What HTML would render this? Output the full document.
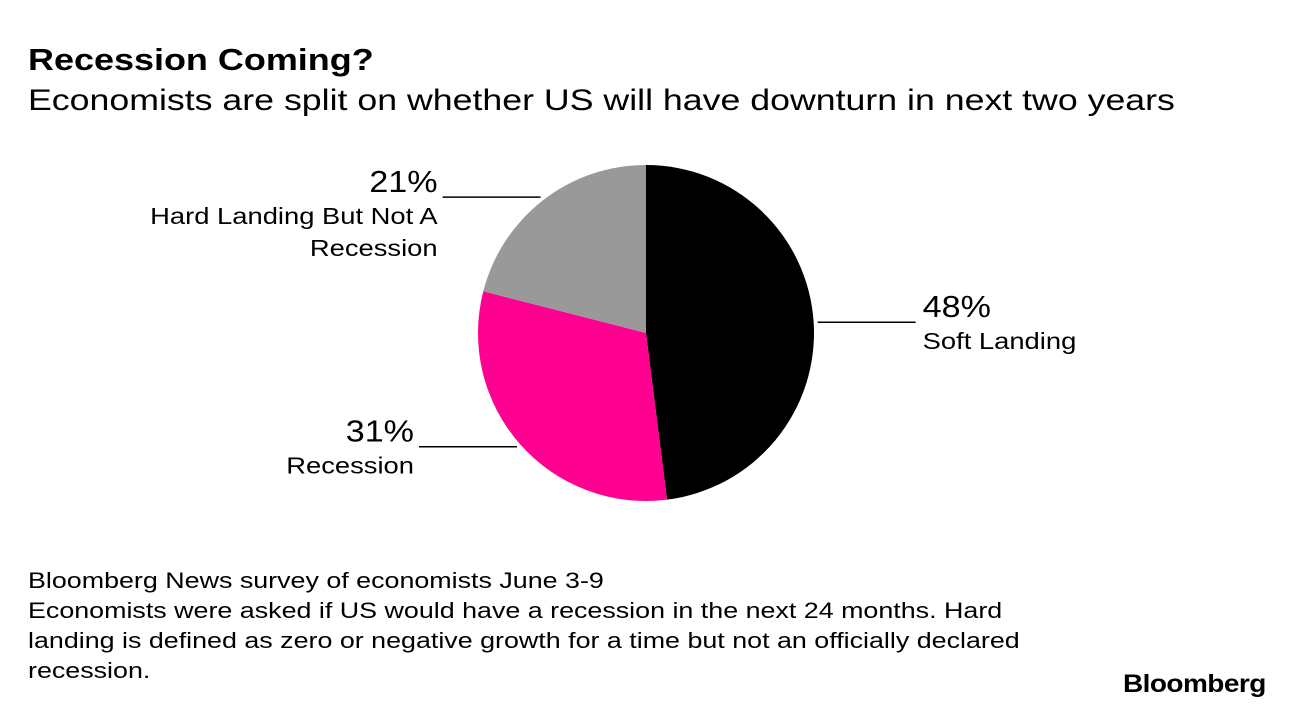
<!DOCTYPE html>
<html><head><meta charset="utf-8"><style>
body{margin:0;background:#fff;width:1292px;height:710px;overflow:hidden;font-family:"Liberation Sans",Arial,sans-serif;color:#000}
.t{position:absolute;white-space:nowrap;transform-origin:0 0}
</style></head><body>
<div class="t" style="left:28px;top:42px;font-size:31px;font-weight:bold;transform:scaleX(1.16)">Recession Coming?</div>
<div class="t" style="left:28px;top:84px;font-size:30px;transform:scaleX(1.19)">Economists are split on whether US will have downturn in next two years</div>
<svg id="pie" width="1292" height="710" style="position:absolute;left:0;top:0"></svg>
<div class="t" style="left:28px;top:566px;font-size:22px;line-height:30px;transform:scaleX(1.22)">Bloomberg News survey of economists June 3-9<br>Economists were asked if US would have a recession in the next 24 months. Hard<br>landing is defined as zero or negative growth for a time but not an officially declared<br>recession.</div>
<div class="t" style="left:1123px;top:670px;font-size:25px;font-weight:bold;letter-spacing:-0.5px;transform:scaleX(1.12)">Bloomberg</div>
<script>
const categories=["Soft Landing","Recession","Hard Landing But Not A Recession"];
const values=[48,31,21];
const colors=["#000000","#ff0090","#999999"];
const svg=document.getElementById('pie');
const NS="http://www.w3.org/2000/svg";
const cx=646,cy=333,r=168,SX=1.19;
const total=values.reduce((a,b)=>a+b,0);
let a0=0;
function pt(a,rr){return [cx+rr*Math.sin(a),cy-rr*Math.cos(a)];}
values.forEach((v,i)=>{
  const a1=a0+v/total*2*Math.PI;
  const p0=pt(a0,r),p1=pt(a1,r);
  const large=(a1-a0)>Math.PI?1:0;
  const p=document.createElementNS(NS,'path');
  p.setAttribute('d',`M${cx},${cy}L${p0[0]},${p0[1]}A${r},${r} 0 ${large} 1 ${p1[0]},${p1[1]}Z`);
  p.setAttribute('fill',colors[i]);
  
  
  svg.appendChild(p);
  const mid=(a0+a1)/2;
  const e=pt(mid,r+4);
  const right=Math.sin(mid)>0;
  const len=98;
  const x2=right?e[0]+len:e[0]-len;
  const ln=document.createElementNS(NS,'line');
  ln.setAttribute('x1',e[0]);ln.setAttribute('y1',e[1]);ln.setAttribute('x2',x2);ln.setAttribute('y2',e[1]);
  ln.setAttribute('stroke','#000');ln.setAttribute('stroke-width','1.5');
  
  
  svg.appendChild(ln);
  const tx=right?x2+7:x2-5;
  const anchor=right?'start':'end';
  const pct=document.createElementNS(NS,'text');
  pct.setAttribute('transform',`translate(${tx},${e[1]-5}) scale(1.1,1)`);
  pct.setAttribute('font-size','31');pct.setAttribute('text-anchor',anchor);
  pct.setAttribute('font-family','Liberation Sans, sans-serif');
  pct.textContent=v+'%';
  
  
  svg.appendChild(pct);
  const words=categories[i];
  const lines=words.length>20?[words.replace(/ Recession$/,''),'Recession']:[words];
  lines.forEach((s,j)=>{
    const t=document.createElementNS(NS,'text');
    t.setAttribute('transform',`translate(${tx},${e[1]+27+j*32}) scale(${SX},1)`);
    t.setAttribute('font-size','23');t.setAttribute('text-anchor',anchor);
    t.setAttribute('font-family','Liberation Sans, sans-serif');
    t.textContent=s;
    
    
    svg.appendChild(t);
  });
  a0=a1;
});
</script>
</body></html>
